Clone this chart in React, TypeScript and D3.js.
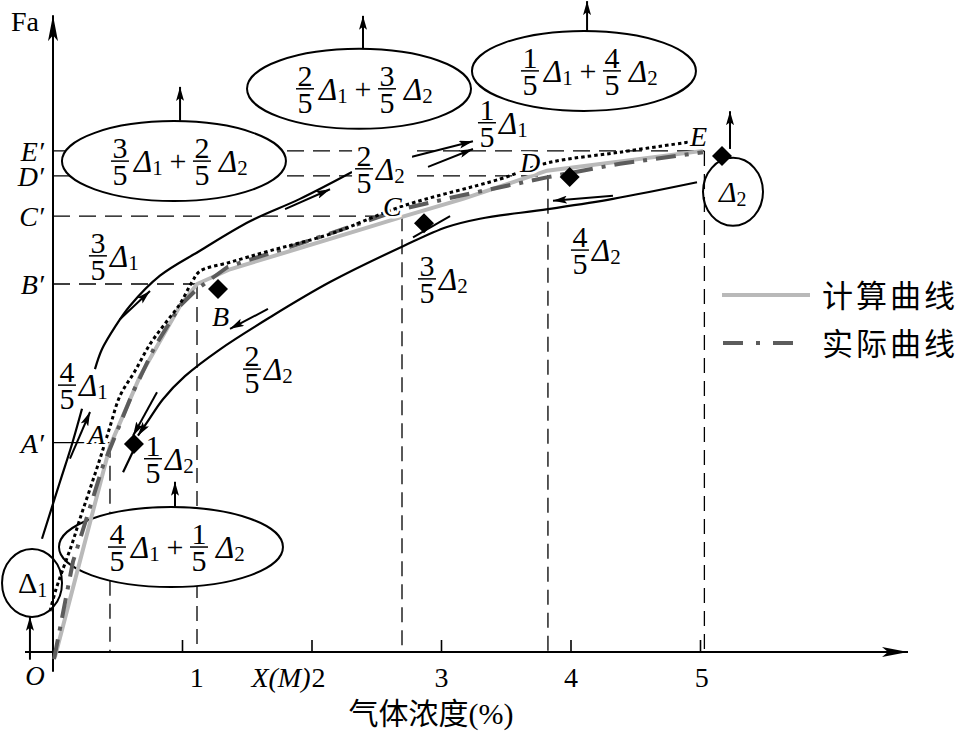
import React from "react";
import * as d3 from "d3";

// ---------- data (x: gas concentration %, y: Fa) ----------
const xTicks = [1, 2, 3, 4, 5];
const xTickLabels = ["1", "2", "3", "4", "5"];
const xTickLabelAt = [1.11, 2.05, 3.0, 4.0, 5.01];

const pointNames = ["A", "B", "C", "D", "E"];
const levelNames = ["A′", "B′", "C′", "D′", "E′"];
const pointX = [0.44, 1.112, 2.695, 3.822, 5.03];
const pointY = [3.27, 5.75, 6.81, 7.44, 7.83];
const pointLabelX = [0.27, 1.228, 2.548, 3.606, 4.919];
const pointLabelY = [3.25, 5.09, 6.81, 7.5, 7.91];

const diamondX = [0.625, 1.274, 2.865, 3.99, 5.166];
const diamondY = [3.25, 5.67, 6.7, 7.42, 7.75];

// calculated curve (light gray)
const calcX = [0.015, 0.44, 0.672, 0.981, 1.112, 1.367, 2.394, 2.695, 3.166, 3.815, 5.019];
const calcY = [-0.08, 3.22, 4.31, 5.41, 5.75, 5.98, 6.61, 6.8, 7.08, 7.52, 7.83];

// actual curve (dark gray dash-dot)
const actualX = [0.008, 0.154, 0.386, 0.618, 0.788, 0.981, 1.112, 1.351, 1.907, 2.695, 3.143, 3.822, 4.378, 5.019];
const actualY = [-0.11, 1.41, 2.91, 4.06, 4.78, 5.41, 5.67, 6.02, 6.38, 6.92, 7.13, 7.42, 7.63, 7.81];

// dotted curve
const dottedX = [-0.023, 0.023, 0.069, 0.147, 0.208, 0.286, 0.363, 0.44, 0.517, 0.633, 0.749, 0.865, 0.981, 1.073, 1.135, 1.367, 1.676, 2.139, 2.703, 3.452, 3.815, 4.378, 4.919];
const dottedY = [0.64, 0.98, 1.25, 1.69, 2.08, 2.55, 3.02, 3.52, 4.0, 4.39, 4.81, 5.13, 5.44, 5.78, 5.95, 6.09, 6.27, 6.53, 6.97, 7.39, 7.64, 7.81, 7.97];

// upper loading curve (black), two pieces around the 4/5Δ1 label
const upperAX = [-0.085, 0.054, 0.147, 0.224];
const upperAY = [1.77, 2.66, 3.25, 3.8];
const upperBX = [0.324, 0.378, 0.479, 0.595, 0.826, 1.135, 1.521, 1.907, 2.309];
const upperBY = [4.42, 4.73, 5.08, 5.41, 5.88, 6.27, 6.73, 7.08, 7.5];

// lower unloading curve (black)
const lowerX = [4.973, 4.324, 3.822, 3.297, 3.042, 2.703, 2.139, 1.676, 1.29, 1.019, 0.849, 0.734, 0.656];
const lowerY = [7.34, 7.08, 6.92, 6.77, 6.64, 6.34, 5.78, 5.23, 4.73, 4.31, 3.95, 3.61, 3.38];
const lowerTailX = [0.541, 0.633];
const lowerTailY = [2.81, 3.2];

// direction arrows [x1, y1, x2, y2]
const arrows = [
  [0.131, 3.02, 0.286, 3.75],
  [0.517, 5.2, 0.749, 5.64],
  [1.792, 6.92, 2.139, 7.23],
  [2.896, 7.58, 3.243, 7.86],
  [2.757, 7.73, 3.243, 7.98],
  [1.66, 5.36, 1.367, 5.05],
  [0.803, 4.06, 0.618, 3.38],
  [4.324, 7.13, 3.861, 7.05],
  [0.981, 8.3, 0.981, 8.83],
  [2.394, 9.42, 2.394, 9.94],
  [4.124, 9.7, 4.124, 10.17],
  [0.942, 2.27, 0.942, 2.66],
  [-0.178, -0.12, -0.178, 0.55],
  [5.228, 7.86, 5.228, 8.45],
];
const plainSegs = [[3.066, 6.81, 2.78, 6.48]];

// ellipses with combined loads
const ellipseX = [0.934, 2.363, 4.1, 0.911];
const ellipseY = [7.67, 8.8, 9.08, 1.64];
const ellipseNum1 = ["3", "2", "1", "4"];
const ellipseNum2 = ["2", "3", "4", "1"];

// circled loads
const circleX = [-0.162, 5.251];
const circleY = [1.08, 7.19];
const circleSub = ["1", "2"];

// fraction labels
const fracX = [0.347, 0.108, 2.402, 3.351, 2.888, 4.069, 1.537, 0.772];
const fracY = [6.19, 4.17, 7.55, 8.27, 5.83, 6.28, 4.42, 3.02];
const fracNum = ["3", "4", "2", "1", "3", "4", "2", "1"];
const fracSub = ["1", "1", "2", "1", "2", "2", "2", "2"];
const fracBg = [false, false, true, false, false, false, false, false];

const legendLabels = ["计算曲线", "实际曲线"];

// ---------- drawing ----------
const W = 959;
const H = 732;
const serif = "'Liberation Serif', 'Times New Roman', serif";
const cjk = "'Noto Sans CJK SC', sans-serif";

const x = d3.scaleLinear().domain([0, 5]).range([53, 700.5]);
const y = d3.scaleLinear().domain([0, 10]).range([652, 12]);

const zip = (xs: number[], ys: number[]) => xs.map((v, i) => [v, ys[i]] as [number, number]);

const lineLin = d3.line<[number, number]>().x((d) => x(d[0])).y((d) => y(d[1]));
const lineSmooth = d3
  .line<[number, number]>()
  .x((d) => x(d[0]))
  .y((d) => y(d[1]))
  .curve(d3.curveCatmullRom.alpha(0.5));

const diamond = d3.symbol().type(d3.symbolSquare).size(200)();

function Frac({ cx, cy, num, sub, bg, dOff = 12 }: any) {
  return (
    <g fontFamily={serif}>
      {bg && <rect x={cx - 12} y={cy - 30} width={60} height={57} fill="white" />}
      <text x={cx} y={cy - 3} textAnchor="middle" fontSize={30}>{num}</text>
      <line x1={cx - 9} x2={cx + 9} y1={cy} y2={cy} stroke="black" strokeWidth={1.5} />
      <text x={cx} y={cy + 24} textAnchor="middle" fontSize={30}>5</text>
      <text x={cx + dOff} y={cy + 11} fontSize={31} fontStyle="italic">
        Δ<tspan fontSize={21} fontStyle="normal" dy={3}>{sub}</tspan>
      </text>
    </g>
  );
}

export default function App() {
  const levels = pointX.map((px, i) => ({ px, py: pointY[i], level: levelNames[i], name: pointNames[i] }));
  return (
    <svg
      width={W}
      height={H}
      style={{ position: "absolute", left: 0, top: 0, background: "white" }}
      fontFamily={serif}
    >
      <defs>
        <marker id="ah" viewBox="0 0 14 8" refX={14} refY={4} markerWidth={14} markerHeight={8} markerUnits="userSpaceOnUse" orient="auto">
          <path d="M0,0 L14,4 L0,8 L3,4 Z" fill="black" />
        </marker>
        <marker id="ahBig" viewBox="0 0 26 10" refX={26} refY={5} markerWidth={26} markerHeight={10} markerUnits="userSpaceOnUse" orient="auto">
          <path d="M0,0 L26,5 L0,10 L6,5 Z" fill="black" />
        </marker>
      </defs>
      <rect width={W} height={H} fill="white" />

      {/* guide lines */}
      {levels.map((l, i) => (
        <g key={"g" + i} stroke="black" strokeWidth={1.3} fill="none">
          <line x1={x(0)} x2={x(l.px)} y1={y(l.py)} y2={y(l.py)} strokeDasharray={i === 0 ? undefined : "17,9"} />
          <line x1={x(l.px)} x2={x(l.px)} y1={y(l.py)} y2={y(0)} strokeDasharray="15,8" />
        </g>
      ))}

      {/* axes */}
      <line x1={25} x2={908} y1={y(0)} y2={y(0)} stroke="black" strokeWidth={2} markerEnd="url(#ahBig)" />
      <line x1={x(0)} x2={x(0)} y1={y(-0.31)} y2={y(9.95)} stroke="black" strokeWidth={2} markerEnd="url(#ahBig)" />
      {xTicks.map((t) => (
        <line key={"t" + t} x1={x(t)} x2={x(t)} y1={y(0)} y2={y(0) - 12} stroke="black" strokeWidth={1.6} />
      ))}
      {xTickLabels.map((t, i) => (
        <text key={"tl" + i} x={x(xTickLabelAt[i])} y={687} textAnchor="middle" fontSize={28}>{t}</text>
      ))}
      <text x={x(2.05) - 8} y={687} textAnchor="end" fontSize={28} fontStyle="italic">X(M)</text>
      <text x={35} y={685} textAnchor="middle" fontSize={27} fontStyle="italic">O</text>
      <text x={11} y={31} fontSize={28}>Fa</text>
      <text x={431} y={724} textAnchor="middle" fontSize={30}>
        <tspan fontFamily={cjk}>气体浓度</tspan>(%)
      </text>
      {levels.map((l, i) => (
        <text key={"lv" + i} x={44} y={y(l.py) + 10} textAnchor="end" fontSize={28} fontStyle="italic">{l.level}</text>
      ))}

      {/* ellipses */}
      {ellipseX.map((ex, i) => {
        const cx = x(ex);
        const cy = y(ellipseY[i]);
        const ec = cx + 8;
        return (
          <g key={"e" + i}>
            <ellipse cx={cx} cy={cy} rx={112} ry={40} fill="white" stroke="black" strokeWidth={2} />
            <Frac cx={ec - 62} cy={cy} num={ellipseNum1[i]} sub="1" dOff={14} />
            <text x={ec - 4} y={cy + 10} textAnchor="middle" fontSize={30}>+</text>
            <Frac cx={ec + 20} cy={cy} num={ellipseNum2[i]} sub="2" dOff={17} />
          </g>
        );
      })}

      {/* circles */}
      {circleX.map((c, i) => (
        <g key={"c" + i}>
          <ellipse cx={x(c)} cy={y(circleY[i])} rx={30} ry={34} fill="none" stroke="black" strokeWidth={2} />
          <text x={x(c) - 14} y={y(circleY[i]) + 10} fontSize={30} fontStyle={i === 0 ? "normal" : "italic"}>
            Δ<tspan fontSize={20} fontStyle="normal" dy={4}>{circleSub[i]}</tspan>
          </text>
        </g>
      ))}

      {/* curves */}
      <path d={lineLin(zip(calcX, calcY)) || ""} fill="none" stroke="#b9b9b9" strokeWidth={4} />
      <path d={lineLin(zip(actualX, actualY)) || ""} fill="none" stroke="#5c5c5c" strokeWidth={4} strokeDasharray="20,9,4,9" />
      <path d={lineSmooth(zip(dottedX, dottedY)) || ""} fill="none" stroke="black" strokeWidth={3} strokeDasharray="3.5,3" />
      <path d={lineSmooth(zip(upperAX, upperAY)) || ""} fill="none" stroke="black" strokeWidth={2.2} />
      <path d={lineSmooth(zip(upperBX, upperBY)) || ""} fill="none" stroke="black" strokeWidth={2.2} />
      <path d={lineSmooth(zip(lowerX, lowerY)) || ""} fill="none" stroke="black" strokeWidth={2.2} markerEnd="url(#ah)" />
      <path d={lineLin(zip(lowerTailX, lowerTailY)) || ""} fill="none" stroke="black" strokeWidth={2.2} />

      {arrows.map((a, i) => (
        <line key={"a" + i} x1={x(a[0])} y1={y(a[1])} x2={x(a[2])} y2={y(a[3])} stroke="black" strokeWidth={2} markerEnd="url(#ah)" />
      ))}
      {plainSegs.map((a, i) => (
        <line key={"p" + i} x1={x(a[0])} y1={y(a[1])} x2={x(a[2])} y2={y(a[3])} stroke="black" strokeWidth={2} />
      ))}

      {/* diamonds */}
      {diamondX.map((dx, i) => (
        <path key={"d" + i} d={diamond || ""} transform={`translate(${x(dx)},${y(diamondY[i])}) rotate(45)`} fill="black" />
      ))}

      {/* point labels */}
      {pointLabelX.map((px, i) => (
        <text key={"pl" + i} x={x(px)} y={y(pointLabelY[i])} fontSize={28} fontStyle="italic" paintOrder="stroke" stroke="white" strokeWidth={5}>
          {pointNames[i]}
        </text>
      ))}

      {/* fraction labels */}
      {fracX.map((fx, i) => (
        <Frac key={"f" + i} cx={x(fx)} cy={y(fracY[i])} num={fracNum[i]} sub={fracSub[i]} bg={fracBg[i]} />
      ))}

      {/* legend */}
      <line x1={722} x2={810} y1={295} y2={295} stroke="#b9b9b9" strokeWidth={4} />
      <text x={822} y={307} fontSize={31} fontFamily={cjk} letterSpacing={3}>{legendLabels[0]}</text>
      <line x1={723} x2={800} y1={343} y2={343} stroke="#5c5c5c" strokeWidth={4} strokeDasharray="20,13,4,13" />
      <text x={822} y={355} fontSize={31} fontFamily={cjk} letterSpacing={3}>{legendLabels[1]}</text>
    </svg>
  );
}
